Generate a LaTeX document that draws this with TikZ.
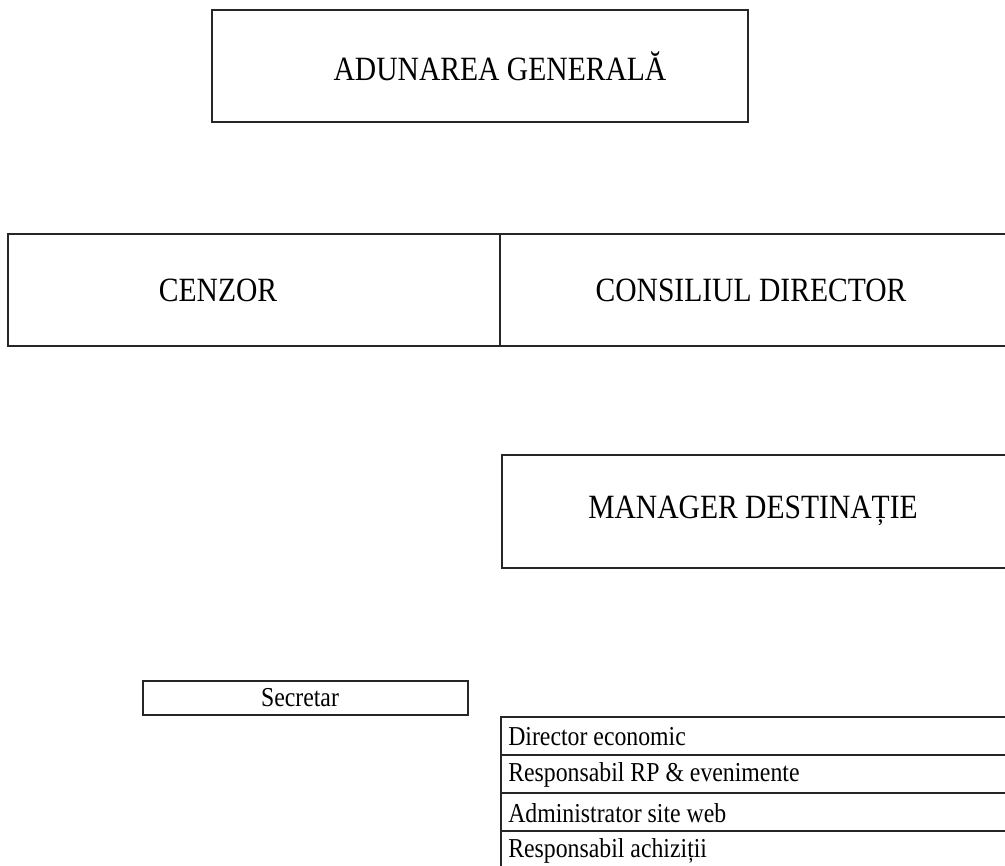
\documentclass[tikz,border=0pt]{standalone}
\usepackage{fontspec}
\setmainfont{Liberation Serif}[FakeStretch=0.87]
\usetikzlibrary{positioning}

\tikzset{
  box/.style={draw=black!85, line width=1.1pt},
  title/.style={font=\fontsize{25.5}{28}\selectfont, inner sep=0pt},
  post/.style={font=\fontsize{20.5}{23}\selectfont, inner sep=0pt, anchor=west},
}

\begin{document}
\begin{tikzpicture}[x=0.75pt,y=-0.75pt]
  \useasboundingbox (0,0) rectangle (1005,866);
  \fill[white] (0,0) rectangle (1005,866);

  % General assembly
  \draw[box] (212,10) rectangle (748,122);
  \node[title] (adunare) at (500,66) {ADUNAREA GENERALĂ};

  % Censor and board
  \draw[box] (8,234) rectangle (500,346);
  \draw[box] (500,234) rectangle (1015,346);
  \node[title] (cenzor) at (218,290) {CENZOR};
  \node[title] (consiliu) at (751,290) {CONSILIUL DIRECTOR};

  % Destination manager
  \draw[box] (502,455) rectangle (1015,568);
  \node[title] (manager) at (753,511) {MANAGER DESTINAȚIE};

  % Secretary
  \draw[box] (143,681) rectangle (468,715);
  \node[font=\fontsize{20.5}{23}\selectfont, inner sep=0pt] (secretar) at (300,698) {Secretar};

  % Staff list
  \foreach \t [count=\i] in {Director economic, Responsabil RP \& evenimente,
                             Administrator site web, Responsabil achiziții} {
    \draw[box] (501,{717+38*(\i-1)}) rectangle (1015,{717+38*\i});
    \node[post] (post\i) at (508,{737+38*(\i-1)}) {\t};
  }
\end{tikzpicture}
\end{document}
